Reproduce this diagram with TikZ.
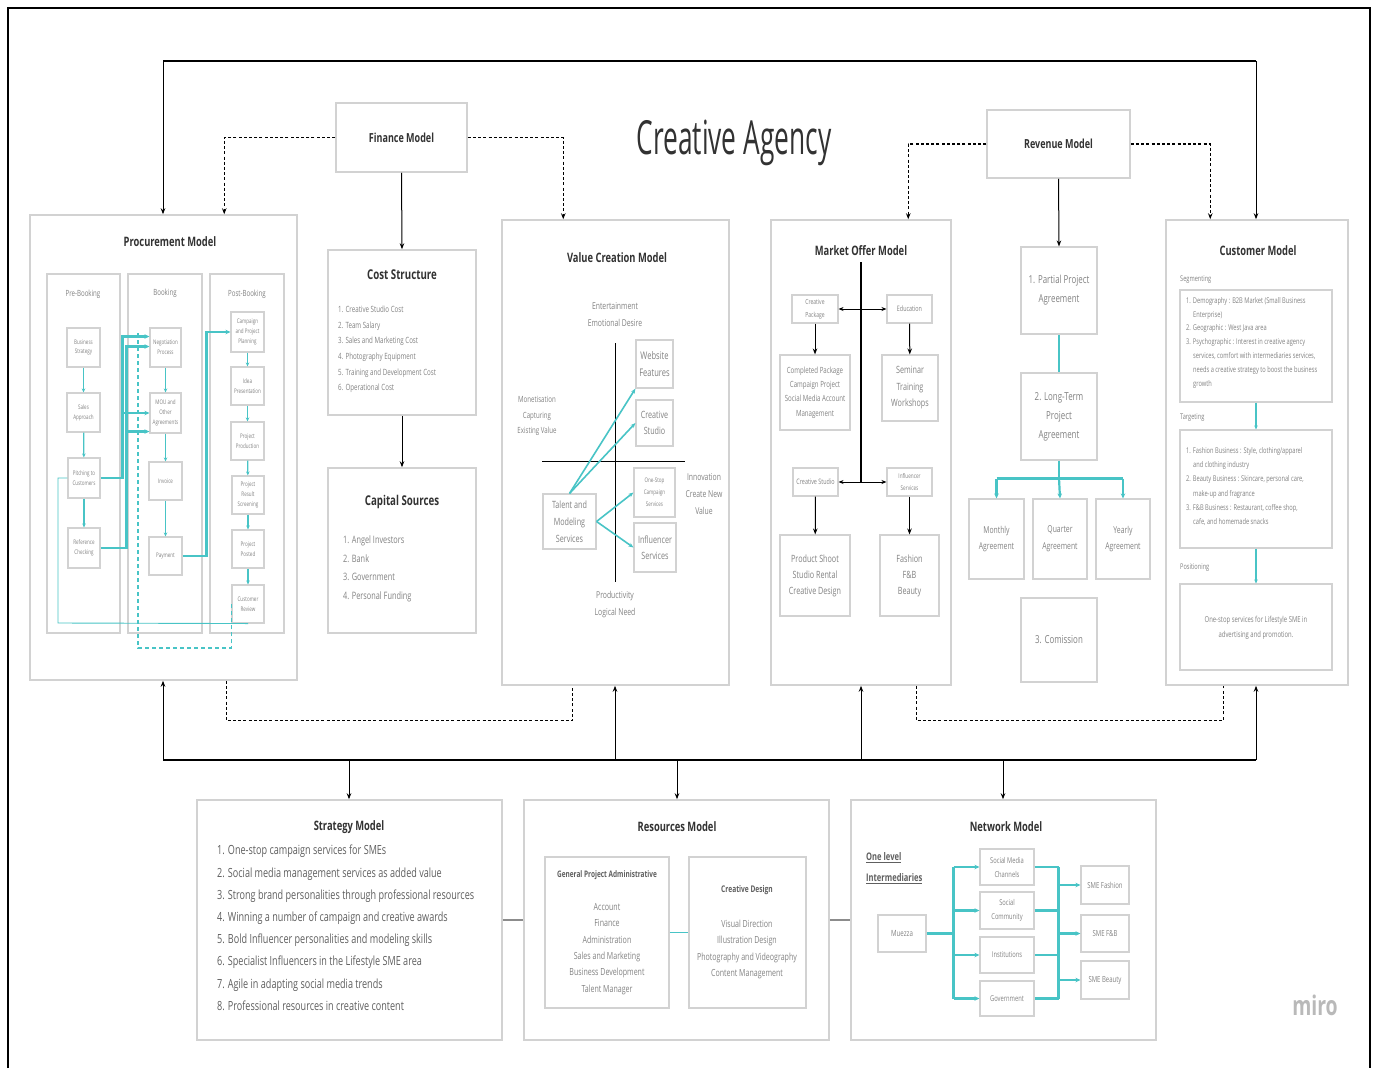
\documentclass[tikz,border=0pt]{standalone}
\usepackage{fontspec}
\setmainfont{Open Sans}[FakeStretch=0.72]
\newfontfamily\headfont{Open Sans}[FakeStretch=0.56]
\usetikzlibrary{arrows.meta}
\definecolor{boxc}{RGB}{210,210,210}
\definecolor{txtc}{RGB}{130,130,130}
\definecolor{ttlc}{RGB}{50,50,50}
\definecolor{lstc}{RGB}{95,95,95}
\definecolor{tealc}{RGB}{72,196,198}
\definecolor{linkc}{RGB}{140,140,140}
\definecolor{logoc}{RGB}{185,185,185}
% box from corner (x1,y1) to corner (x2,y2): style, name, x1, y1, x2, y2, text
\newcommand\bx[7]{\node[#1, minimum width={(#5)-(#3)}, minimum height={(#6)-(#4)}] (#2) at ({((#3)+(#5))/2},{((#4)+(#6))/2}) {#7};}
\begin{document}
\begin{tikzpicture}[x=1pt,y=-1pt,
  box/.style={draw=boxc, line width=1.1pt, inner sep=0pt, align=center, text=txtc},
  mbox/.style={draw=boxc, line width=1.5pt, inner sep=0pt},
  fs/.style 2 args={font=\fontsize{#1}{#2}\selectfont},
  fsb/.style 2 args={font=\fontsize{#1}{#2}\selectfont\bfseries},
  ttl/.style={text=ttlc, font=\fontsize{13}{16}\selectfont\bfseries, inner sep=0pt},
  lab/.style={text=txtc, align=center, inner sep=0pt},
  lst/.style={text=txtc, align=left, inner sep=0pt, anchor=north west},
  ar/.style={draw=black, line width=1pt, -{Stealth[length=6pt,width=4.5pt]}},
  bus/.style={draw=black, line width=2.8pt},
  dsh/.style={draw=black, line width=1.4pt, dash pattern=on 3pt off 2.2pt},
  dsha/.style={dsh, -{Stealth[length=6pt,width=4.5pt]}},
  tl/.style={draw=tealc, line width=1.2pt, -{Stealth[length=4pt,width=3.5pt]}},
  tm/.style={draw=tealc, line width=1.6pt, -{Stealth[length=5pt,width=4pt]}},
  tk/.style={draw=tealc, line width=2.2pt, -{Stealth[length=5pt,width=4.5pt]}},
  tkn/.style={draw=tealc, line width=2.2pt},
  dbl/.style={draw=black, line width=1pt, {Stealth[length=5pt,width=4pt]}-{Stealth[length=5pt,width=4pt]}},
]
\useasboundingbox (0,0) rectangle (1375,1068);
\fill[white] (0,0) rectangle (1375,1068);
\draw[line width=2pt] (8,1068) -- (8,8) -- (1370,8) -- (1370,1068);

% ---------- title and top models ----------
\node[text=ttlc, font=\headfont\fontsize{47}{50}\selectfont, inner sep=0pt] (title) at (734,143) {Creative Agency};
\bx{mbox}{fin}{336}{103}{467}{172}{}
\node[ttl, fsb={12.5}{15}] (finT) at (fin.center) {Finance Model};
\bx{mbox}{rev}{987}{110}{1130}{178}{}
\node[ttl, fsb={12.5}{15}] (revT) at (rev.center) {Revenue Model};

% ---------- main model boxes ----------
\bx{mbox}{proc}{30}{215}{297}{680}{}
\bx{mbox}{cost}{328}{250}{476}{415}{}
\bx{mbox}{cap}{328}{468}{476}{633}{}
\bx{mbox}{val}{502}{220}{729}{685}{}
\bx{mbox}{mkt}{771}{220}{951}{685}{}
\bx{mbox}{cust}{1166}{220}{1348}{685}{}
\bx{mbox}{strat}{197}{800}{502}{1040}{}
\bx{mbox}{res}{524}{800}{829}{1040}{}
\bx{mbox}{net}{851}{800}{1156}{1040}{}

% ---------- top bus and dashed links ----------
\coordinate (busTL) at (163,61);
\coordinate (busTR) at (1256,61);
\draw[bus] (busTL) -- (busTR);
\draw[ar] (busTL) -- (busTL |- proc.north);
\draw[ar] (busTR) -- (busTR |- cust.north);
\draw[dsha] (fin.west) -| ([xshift=195]proc.north west);
\draw[dsha] (fin.east) -| ([xshift=62]val.north west);
\draw[dsha] (rev.west) -| ([xshift=138]mkt.north west);
\draw[dsha] (rev.east) -| ([xshift=45]cust.north west);
\draw[ar] (fin.south) -- (cost.north);
\draw[ar] (cost.south) -- (cap.north);

% ---------- bottom bus ----------
\coordinate (busBL) at (163,760);
\coordinate (busBR) at (1256,760);
\coordinate (busV) at (615,760);
\coordinate (busM) at (861,760);
\coordinate (busS) at (349,760);
\coordinate (busR) at (677,760);
\coordinate (busN) at (1003,760);
\draw[bus] (busBL) -- (busN);
\draw[draw=black, line width=1.8pt] (busN) -- (busBR);
\draw[ar] (busBL) -- (busBL |- proc.south);
\draw[ar] (busV) -- (busV |- val.south);
\draw[ar] (busM) -- (busM |- mkt.south);
\draw[ar] (busBR) -- (busBR |- cust.south);
\draw[ar] (busS) -- (busS |- strat.north);
\draw[ar] (busR) -- (busR |- res.north);
\draw[ar] (busN) -- (busN |- net.north);
\draw[dsh] ([xshift=197]proc.south west) -- ++(0,40) -| ([xshift=71]val.south west);
\draw[dsh] ([xshift=146]mkt.south west) -- ++(0,35) -| ([xshift=58]cust.south west);
\draw[draw=linkc, line width=2.5pt] (strat.east) -- (res.west);
\draw[draw=linkc, line width=2.5pt] (res.east) -- (net.west);

% ---------- Procurement Model ----------
\node[ttl] (procT) at (170,242) {Procurement Model};
\bx{box}{colPre}{47}{274}{120}{633}{}
\bx{box}{colBk}{128}{274}{202}{633}{}
\bx{box}{colPost}{210}{274}{284}{633}{}
\node[lab, fs={8.5}{10}] (preT) at (83,294) {Pre-Booking};
\node[lab, fs={8.5}{10}] (bkT) at (165,293) {Booking};
\node[lab, fs={8.5}{10}] (postT) at (247,294) {Post-Booking};
\tikzset{pb/.style={box, fs={6.3}{9.8}}}
\bx{pb}{bs}{67}{328}{100}{367}{Business\\Strategy}
\bx{pb}{sa}{67}{393}{100}{432}{Sales\\Approach}
\bx{pb}{pc}{68}{458}{100}{498}{Pitching to\\Customers}
\bx{pb}{rc}{68}{528}{100}{568}{Reference\\Checking}
\bx{pb}{np}{150}{328}{181}{367}{Negotiation\\Process}
\bx{pb}{mou}{150}{393}{181}{433}{MOU and\\Other\\Agreements}
\bx{pb}{inv}{149}{462}{182}{500}{Invoice}
\bx{pb}{pay}{149}{537}{182}{575}{Payment}
\bx{pb}{cpp}{231}{312}{264}{352}{Campaign\\and Project\\Planning}
\bx{pb}{ip}{231}{367}{264}{405}{Idea\\Presentation}
\bx{pb}{pp}{231}{422}{264}{460}{Project\\Production}
\bx{pb}{prs}{232}{476}{264}{514}{Project\\Result\\Screening}
\bx{pb}{ppo}{232}{530}{264}{568}{Project\\Posted}
\bx{pb}{cr}{232}{585}{264}{623}{Customer\\Review}
\draw[tl] (bs) -- (sa);
\draw[tl] (sa) -- (pc);
\draw[tl] (pc) -- (rc);
\draw[tl] (np) -- (mou);
\draw[tl] (mou) -- (inv);
\draw[tl] (inv) -- (pay);
\draw[tl] (cpp) -- (ip);
\draw[tl] (ip) -- (pp);
\draw[tl] (pp) -- (prs);
\draw[tl] (prs) -- (ppo);
\draw[tl] (ppo) -- (cr);
\coordinate (mouLo) at ([yshift=2]mou.south west);
\draw[tk] (pc.east) -- ++(22,0) coordinate (pcA) |- ([yshift=11]np.west);
\draw[tk] (pcA |- mou.west) -- (mou.west);
\draw[tk] (rc.east) -- ++(26,0) coordinate (rcA) |- ([yshift=1]np.west);
\draw[tk] (rcA |- mouLo) -- (mouLo);
\draw[tk] (pay.east) -- ++(24,0) |- (cpp.west);
\coordinate (loopC) at (58,623);
\draw[draw=tealc, line width=0.9pt] (cr.south) -- (loopC) |- (pc.west);
\coordinate (dtA) at (138,333);
\draw[draw=tealc, line width=1.3pt, dash pattern=on 4pt off 3pt] (dtA) -- ++(0,315) -| (cr.west);

% ---------- Cost Structure / Capital Sources ----------
\node[ttl, fsb={13.5}{16}] (costT) at (402,275) {Cost Structure};
\node[lst, fs={8.6}{15.6}] (costL) at (338,306) {1. Creative Studio Cost\\2. Team Salary\\3. Sales and Marketing Cost\\4. Photography Equipment\\5. Training and Development Cost\\6. Operational Cost};
\node[ttl, fsb={13.5}{16}] (capT) at (402,502) {Capital Sources};
\node[lst, fs={10.2}{18.5}] (capL) at (343,536) {1. Angel Investors\\2. Bank\\3. Government\\4. Personal Funding};

% ---------- Value Creation Model ----------
\node[ttl] (valT) at (617,258) {Value Creation Model};
\coordinate (vT) at (615,343);
\coordinate (vB) at (615,582);
\coordinate (vL) at (542,461);
\coordinate (vR) at (685,461);
\draw[line width=1pt] (vT) -- (vB);
\draw[line width=1pt] (vL) -- (vR);
\node[lab, fs={9.5}{17}] (vEnt) at (615,314.5) {Entertainment\\Emotional Desire};
\node[lab, fs={8.5}{15.5}] (vMon) at (537,416) {Monetisation\\Capturing\\Existing Value};
\node[lab, fs={9.5}{17}] (vInn) at (704,494) {Innovation\\Create New\\Value};
\node[lab, fs={9.5}{17}] (vPro) at (615,604.5) {Productivity\\Logical Need};
\bx{box, fs={10}{17}}{tms}{543}{494}{596}{549}{Talent and\\Modeling\\Services}
\bx{box, fs={10.5}{17}}{wf}{636}{340}{673}{388}{Website\\Features}
\bx{box, fs={10}{16}}{cs}{636}{400}{673}{446}{Creative\\Studio}
\bx{box, fs={6.3}{12}}{ocs}{634}{468}{675}{517}{One-Stop\\Campaign\\Services}
\bx{box, fs={10}{16}}{isv}{634}{523}{676}{572}{Influencer\\Services}
\draw[tm] (tms.north) -- (wf.south west);
\draw[tm] (tms.north) -- (cs.west);
\draw[tm] (tms.east) -- (ocs.west);
\draw[tm] (tms.east) -- (isv.west);

% ---------- Market Offer Model ----------
\node[ttl] (mktT) at (861,251) {Market Offer Model};
\bx{box, fs={7}{13}}{cpk}{792}{295}{838}{323}{Creative\\Package}
\bx{box, fs={7.5}{13}}{edu}{887}{295}{932}{323}{Education}
\bx{box, fs={8.5}{14.3}}{cmp}{780}{355}{850}{430}{Completed Package\\Campaign Project\\Social Media Account\\Management}
\bx{box, fs={10}{16.5}}{sem}{882}{355}{938}{421}{Seminar\\Training\\Workshops}
\bx{box, fs={7.5}{13}}{cst}{793}{468}{838}{496}{Creative Studio}
\bx{box, fs={6.5}{12}}{inf}{887}{468}{932}{496}{Influencer\\Services}
\bx{box, fs={10}{16}}{pss}{780}{535}{850}{616}{Product Shoot\\Studio Rental\\Creative Design}
\bx{box, fs={10}{16}}{fsh}{880}{535}{939}{616}{Fashion\\F\&B\\Beauty}
\coordinate (mTop) at (861,262);
\draw[line width=2pt] (mTop) -- (mTop |- cst.east);
\draw[dbl] (cpk.east) -- (edu.west);
\draw[dbl] (cst.east) -- (inf.west);
\draw[ar] (cpk) -- (cmp);
\draw[ar] (edu) -- (sem);
\draw[ar] (cst) -- (pss);
\draw[ar] (inf) -- (fsh);

% ---------- Revenue Model ----------
\bx{box, fs={11}{19}}{ppa}{1021}{247}{1097}{334}{1. Partial Project\\Agreement}
\bx{box, fs={11}{19}}{lta}{1021}{373}{1097}{460}{2. Long-Term\\Project\\Agreement}
\bx{box, fs={9.5}{16.7}}{mon}{969}{499}{1024}{579}{Monthly\\Agreement}
\bx{box, fs={9.5}{16.7}}{qua}{1033}{499}{1087}{579}{Quarter\\Agreement}
\bx{box, fs={9.5}{16.7}}{yea}{1096}{499}{1150}{579}{Yearly\\Agreement}
\bx{box, fs={11}{19}}{com}{1021}{598}{1097}{682}{3. Comission}
\draw[ar] (rev.south) -- (ppa.north);
\draw[tkn] (ppa) -- (lta);
\draw[tkn] (lta.south) -- ++(0,18) coordinate (ltaB);
\draw[tkn] (mon.north |- ltaB) -- (yea.north |- ltaB);
\draw[tk] (mon.north |- ltaB) -- (mon.north);
\draw[tk] (ltaB) -- (qua.north);
\draw[tk] (yea.north |- ltaB) -- (yea.north);

% ---------- Customer Model ----------
\node[ttl] (custT) at (1258,251) {Customer Model};
\node[lab, fs={7.8}{9}, anchor=west] (segL) at (1180,280) {Segmenting};
\node[lab, fs={7.8}{9}, anchor=west] (tgtL) at (1180,418) {Targeting};
\node[lab, fs={7.8}{9}, anchor=west] (posL) at (1180,568) {Positioning};
\bx{box}{sg}{1180}{290}{1332}{402}{}
\bx{box}{tg}{1180}{430}{1332}{548}{}
\bx{box}{ps}{1180}{584}{1332}{670}{}
\node[lst, fs={7.9}{13.8}] (sgL) at (1186,297) {1. Demography : B2B Market (Small Business\\\hspace*{7pt}Enterprise)\\2. Geographic : West Java area\\3. Psychographic : Interest in creative agency\\\hspace*{7pt}services, comfort with intermediaries services,\\\hspace*{7pt}needs a creative strategy to boost the business\\\hspace*{7pt}growth};
\node[lst, fs={7.9}{14.3}] (tgL) at (1186,447) {1. Fashion Business : Style, clothing/apparel\\\hspace*{7pt}and clothing industry\\2. Beauty Business : Skincare, personal care,\\\hspace*{7pt}make-up and fragrance\\3. F\&B Business : Restaurant, coffee shop,\\\hspace*{7pt}cafe, and homemade snacks};
\node[lab, fs={8.2}{15}] (psL) at (1256,627.5) {One-stop services for Lifestyle SME in\\advertising and promotion.};
\draw[tl] (sg) -- (tg);
\draw[tl] (tg) -- (ps);

% ---------- Strategy Model ----------
\node[ttl] (stratT) at (349,827) {Strategy Model};
\node[lst, text=lstc, fs={12.6}{22.2}] (stratL) at (217,845) {1. One-stop campaign services for SMEs\\2. Social media management services as added value\\3. Strong brand personalities through professional resources\\4. Winning a number of campaign and creative awards\\5. Bold Influencer personalities and modeling skills\\6. Specialist Influencers in the Lifestyle SME area\\7. Agile in adapting social media trends\\8. Professional resources in creative content};

% ---------- Resources Model ----------
\node[ttl] (resT) at (677,827) {Resources Model};
\bx{box}{gpa}{545}{857}{669}{1008}{}
\bx{box}{cd}{689}{857}{806}{1008}{}
\node[ttl, fsb={9}{11}, text=lstc] (gpaT) at (607,875) {General Project Administrative};
\node[lab, fs={9.8}{16.4}] (gpaL) at (607,949) {Account\\Finance\\Administration\\Sales and Marketing\\Business Development\\Talent Manager};
\node[ttl, fsb={9.2}{11}, text=lstc] (cdT) at (747,890) {Creative Design};
\node[lab, fs={9.8}{16.4}] (cdL) at (747,949.5) {Visual Direction\\Illustration Design\\Photography and Videography\\Content Management};
\draw[tkn, line width=1.8pt] (gpa.east) -- (cd.west);

% ---------- Network Model ----------
\node[ttl] (netT) at (1006,827) {Network Model};
\node[anchor=west, align=left, text=lstc, fsb={10.5}{21}, inner sep=0pt] (olI) at (866,868.5) {\underline{One level}\\\underline{Intermediaries}};
\bx{box, fs={8.5}{12}}{mz}{878}{915}{926}{952}{Muezza}
\bx{box, fs={8}{14}}{smc}{980}{849}{1034}{885}{Social Media\\Channels}
\bx{box, fs={8}{14}}{soc}{980}{892}{1034}{929}{Social\\Community}
\bx{box, fs={8}{14}}{ins}{980}{937}{1034}{973}{Institutions}
\bx{box, fs={8}{14}}{gov}{980}{981}{1034}{1016}{Government}
\bx{box, fs={8.3}{12}}{sf}{1081}{866}{1129}{904}{SME Fashion}
\bx{box, fs={8.3}{12}}{sfb}{1081}{915}{1129}{952}{SME F\&B}
\bx{box, fs={8.3}{12}}{sbt}{1081}{961}{1129}{999}{SME Beauty}
\draw[tkn] (mz.east) -- ++(27,0) coordinate (nL);
\draw[tkn] (nL |- smc.west) -- (nL |- gov.west);
\draw[tk] (nL |- smc.west) -- (smc.west);
\draw[tk] (nL |- soc.west) -- (soc.west);
\draw[tk] (nL |- ins.west) -- (ins.west);
\draw[tk] (nL |- gov.west) -- (gov.west);
\coordinate (nR) at ([xshift=24]smc.east);
\draw[tkn] (smc.east) -- (nR);
\draw[tkn] (soc.east) -- (nR |- soc.east);
\draw[tkn] (ins.east) -- (nR |- ins.east);
\draw[tkn] (gov.east) -- (nR |- gov.east);
\draw[tkn] (nR) -- (nR |- gov.east);
\draw[tk] (nR |- sf.west) -- (sf.west);
\draw[tk] (nR |- sfb.west) -- (sfb.west);
\draw[tk] (nR |- sbt.west) -- (sbt.west);

% ---------- logo ----------
\node[text=logoc, fsb={27}{30}, inner sep=0pt] (logo) at (1315,1005) {miro};
\end{tikzpicture}
\end{document}
